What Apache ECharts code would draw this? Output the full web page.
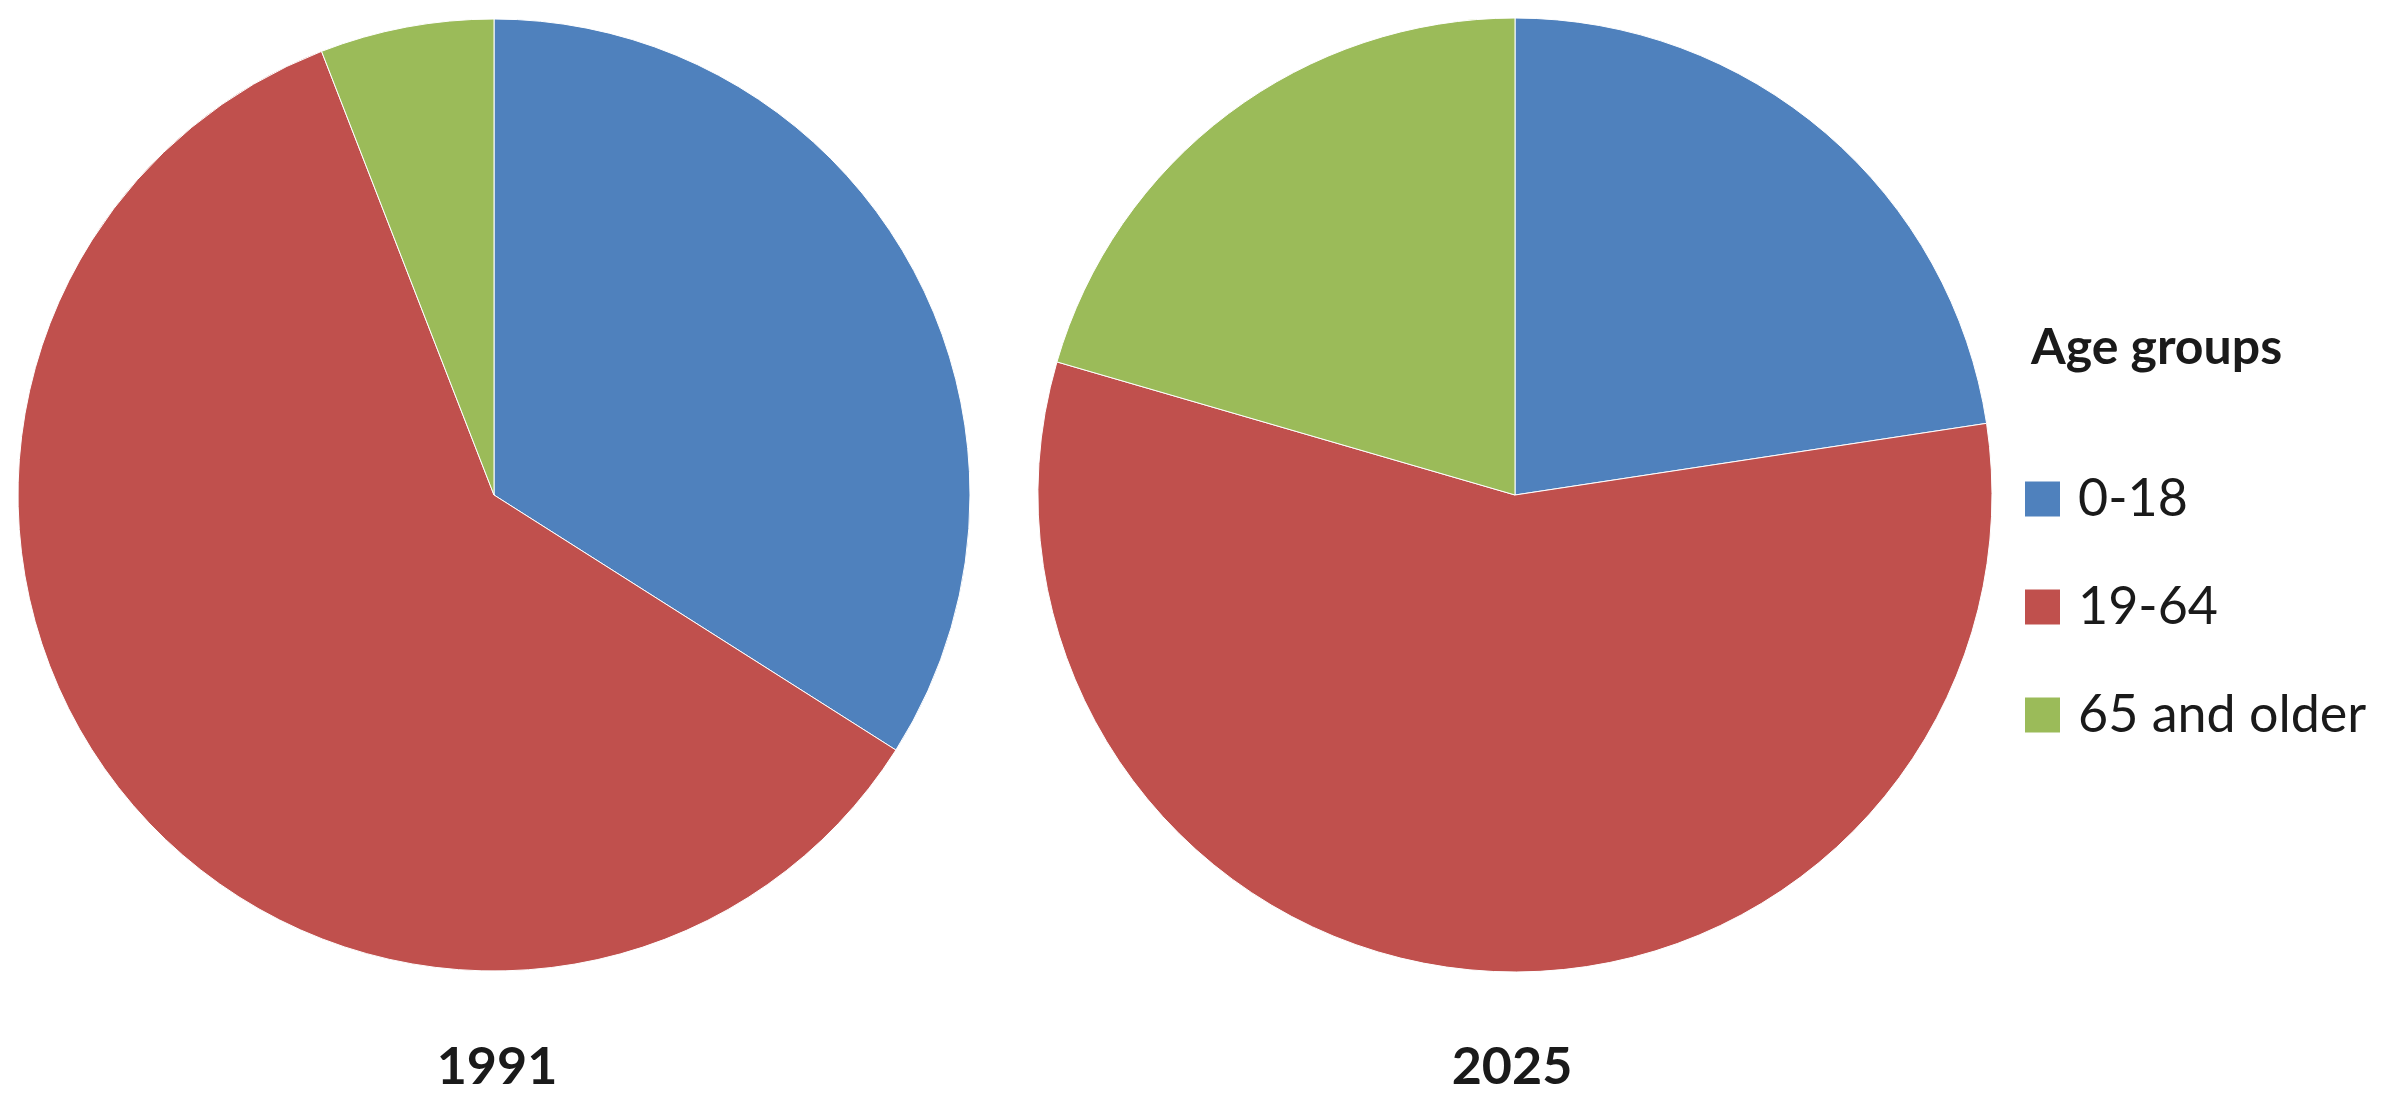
<!DOCTYPE html>
<html>
<head>
<meta charset="utf-8">
<script src="https://cdn.jsdelivr.net/npm/echarts@6/dist/echarts.min.js"></script>
<style>
  html, body { margin: 0; padding: 0; background: #fff; }
  #chart { width: 2393px; height: 1108px; }
</style>
</head>
<body>
<div id="chart"></div>
<script>
// age groups and their shares (%)
var groups = ["0-18", "19-64", "65 and older"];
var share1991 = [34.0, 60.1, 5.9];
var share2025 = [22.6, 56.9, 20.5];
var years = ["1991", "2025"];
var colors = ["#4F81BD", "#C0504D", "#9BBB59"];

function toData(vals) {
  return groups.map(function (g, i) {
    return { name: g, value: vals[i] };
  });
}

var chart = echarts.init(document.getElementById("chart"));
var font = "Lato, 'Open Sans', sans-serif";

var option = {
  backgroundColor: "#fff",
  color: colors,
  animation: false,
  title: [
    {
      text: years[0], left: 492, top: 1036, textAlign: "center",
      textStyle: { fontFamily: font, fontSize: 52, fontWeight: "bold", color: "#1a1a1a" }
    },
    {
      text: years[1], left: 1507, top: 1036, textAlign: "center",
      textStyle: { fontFamily: font, fontSize: 52, fontWeight: "bold", color: "#1a1a1a" }
    },
    {
      text: "Age groups", left: 2026, top: 318,
      textStyle: { fontFamily: font, fontSize: 50, fontWeight: "bold", color: "#1a1a1a" }
    }
  ],
  legend: {
    orient: "vertical",
    left: 2018,
    top: 468,
    icon: "rect",
    itemWidth: 37,
    itemHeight: 37,
    itemGap: 56,
    data: groups,
    textStyle: {
      fontFamily: font,
      fontSize: 52,
      color: "#1a1a1a",
      lineHeight: 38,
      padding: [0, 0, 0, 12]
    }
  },
  series: [
    {
      name: years[0],
      type: "pie",
      center: [494, 495],
      radius: 476,
      startAngle: 90,
      clockwise: true,
      label: { show: false },
      labelLine: { show: false },
      itemStyle: { borderColor: "#fff", borderWidth: 1 },
      data: toData(share1991)
    },
    {
      name: years[1],
      type: "pie",
      center: [1515, 495],
      radius: 477,
      startAngle: 90,
      clockwise: true,
      label: { show: false },
      labelLine: { show: false },
      itemStyle: { borderColor: "#fff", borderWidth: 1 },
      data: toData(share2025)
    }
  ]
};
chart.setOption(option);
</script>
</body>
</html>
